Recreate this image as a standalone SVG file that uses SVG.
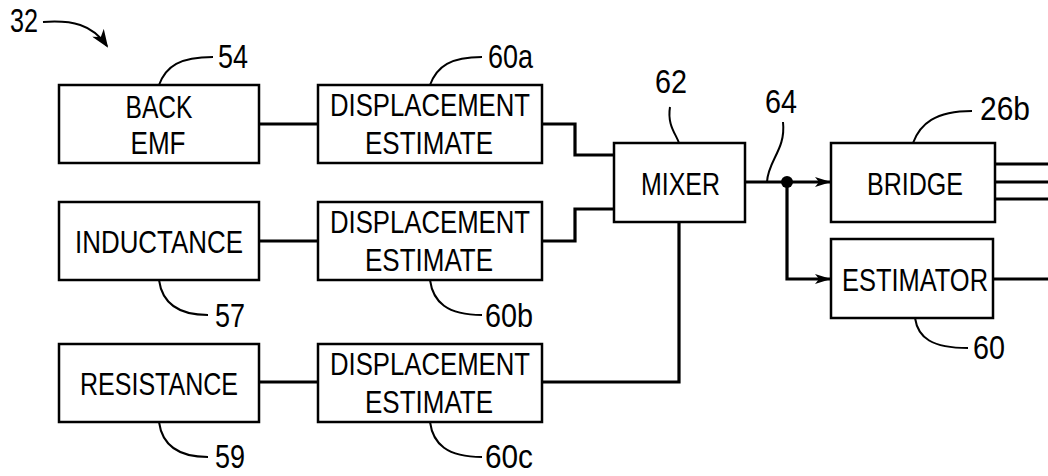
<svg xmlns="http://www.w3.org/2000/svg" width="1048" height="476" viewBox="0 0 1048 476">
<style>
.box{fill:#fff;stroke:#000;stroke-width:2.5}
.t{font-family:"Liberation Sans",Arial,sans-serif;font-size:32px;fill:#000;text-anchor:middle}
.n{font-family:"Liberation Sans",Arial,sans-serif;font-size:33px;fill:#000}
.w{fill:none;stroke:#000;stroke-width:3.2;stroke-linejoin:miter}
.ld{fill:none;stroke:#000;stroke-width:2}
</style>
<defs>
<marker id="ah" viewBox="0 0 16 10" refX="16" refY="5" markerWidth="16" markerHeight="10" markerUnits="userSpaceOnUse" orient="auto">
<path d="M0,0 L16,5 L0,10 L4,5 Z" fill="#000"/>
</marker>
<marker id="ah32" viewBox="0 0 18 14" refX="16" refY="7" markerWidth="18" markerHeight="14" markerUnits="userSpaceOnUse" orient="auto">
<path d="M0,0 L18,7 L0,14 L5,7 Z" fill="#000"/>
</marker>
</defs>
<rect width="1048" height="476" fill="#fff"/>

<g id="connectors">
<path class="w" d="M259,124 H318"/>
<path class="w" d="M542,124 H575 V155 H614"/>
<path class="w" d="M259,241 H318"/>
<path class="w" d="M542,241 H575 V209 H614"/>
<path class="w" d="M259,382 H318"/>
<path class="w" d="M542,382 H679 V222"/>
<path class="w" d="M745,182 H831" marker-end="url(#ah)"/>
<path class="w" d="M787,182 V279 H831" marker-end="url(#ah)"/>
<circle cx="787" cy="182" r="6" fill="#000"/>
<path class="w" d="M995,164 H1048 M995,182 H1048 M995,199 H1048"/>
<path class="w" d="M993,279 H1048"/>
</g>

<g id="ref32">
<text class="n" x="10" y="32" textLength="28" lengthAdjust="spacingAndGlyphs">32</text>
<path class="ld" d="M43,22 C72,20 92,24 107,46" marker-end="url(#ah32)"/>
</g>

<g id="n54">
<rect class="box" x="59" y="85" width="200" height="78"/>
<text class="t" x="159" y="118" textLength="67" lengthAdjust="spacingAndGlyphs">BACK</text>
<text class="t" x="158" y="154" textLength="55" lengthAdjust="spacingAndGlyphs">EMF</text>
<path class="ld" d="M159,85 C166,66 180,57 213,57"/>
<text class="n" x="218" y="68" textLength="30" lengthAdjust="spacingAndGlyphs">54</text>
</g>

<g id="n60a">
<rect class="box" x="318" y="85" width="224" height="78"/>
<text class="t" x="430" y="116" textLength="200" lengthAdjust="spacingAndGlyphs">DISPLACEMENT</text>
<text class="t" x="429" y="154" textLength="128" lengthAdjust="spacingAndGlyphs">ESTIMATE</text>
<path class="ld" d="M430,85 C437,66 451,57 482,57"/>
<text class="n" x="488" y="68" textLength="45" lengthAdjust="spacingAndGlyphs">60a</text>
</g>

<g id="n57">
<rect class="box" x="59" y="202" width="200" height="78"/>
<text class="t" x="159" y="253" textLength="168" lengthAdjust="spacingAndGlyphs">INDUCTANCE</text>
<path class="ld" d="M159,280 C162,302 176,315 208,315"/>
<text class="n" x="215" y="327" textLength="30" lengthAdjust="spacingAndGlyphs">57</text>
</g>

<g id="n60b">
<rect class="box" x="318" y="202" width="224" height="78"/>
<text class="t" x="430" y="233" textLength="200" lengthAdjust="spacingAndGlyphs">DISPLACEMENT</text>
<text class="t" x="429" y="271" textLength="128" lengthAdjust="spacingAndGlyphs">ESTIMATE</text>
<path class="ld" d="M430,280 C433,302 447,315 482,315"/>
<text class="n" x="485" y="327" textLength="48" lengthAdjust="spacingAndGlyphs">60b</text>
</g>

<g id="n59">
<rect class="box" x="59" y="344" width="200" height="78"/>
<text class="t" x="159" y="395" textLength="158" lengthAdjust="spacingAndGlyphs">RESISTANCE</text>
<path class="ld" d="M159,422 C162,444 176,457 208,457"/>
<text class="n" x="215" y="468" textLength="30" lengthAdjust="spacingAndGlyphs">59</text>
</g>

<g id="n60c">
<rect class="box" x="318" y="344" width="224" height="78"/>
<text class="t" x="430" y="375" textLength="200" lengthAdjust="spacingAndGlyphs">DISPLACEMENT</text>
<text class="t" x="429" y="413" textLength="128" lengthAdjust="spacingAndGlyphs">ESTIMATE</text>
<path class="ld" d="M430,422 C433,444 447,457 482,457"/>
<text class="n" x="485" y="468" textLength="48" lengthAdjust="spacingAndGlyphs">60c</text>
</g>

<g id="n62">
<rect class="box" x="614" y="143" width="131" height="79"/>
<text class="t" x="680.5" y="195" textLength="79" lengthAdjust="spacingAndGlyphs">MIXER</text>
<path class="ld" d="M670,107 C667,125 676,134 679,143"/>
<text class="n" x="655" y="93" textLength="32" lengthAdjust="spacingAndGlyphs">62</text>
</g>

<g id="ref64">
<path class="ld" d="M783,122 C786,150 768,160 767,182"/>
<text class="n" x="765" y="113" textLength="32" lengthAdjust="spacingAndGlyphs">64</text>
</g>

<g id="n26b">
<rect class="box" x="831" y="143" width="164" height="79"/>
<text class="t" x="915" y="195" textLength="96" lengthAdjust="spacingAndGlyphs">BRIDGE</text>
<path class="ld" d="M913,143 C920,124 935,111 972,111"/>
<text class="n" x="980" y="120" textLength="50" lengthAdjust="spacingAndGlyphs">26b</text>
</g>

<g id="n60">
<rect class="box" x="831" y="239" width="162" height="79"/>
<text class="t" x="915" y="291" textLength="146" lengthAdjust="spacingAndGlyphs">ESTIMATOR</text>
<path class="ld" d="M915,318 C918,338 932,348 968,348"/>
<text class="n" x="973" y="359" textLength="32" lengthAdjust="spacingAndGlyphs">60</text>
</g>
</svg>
